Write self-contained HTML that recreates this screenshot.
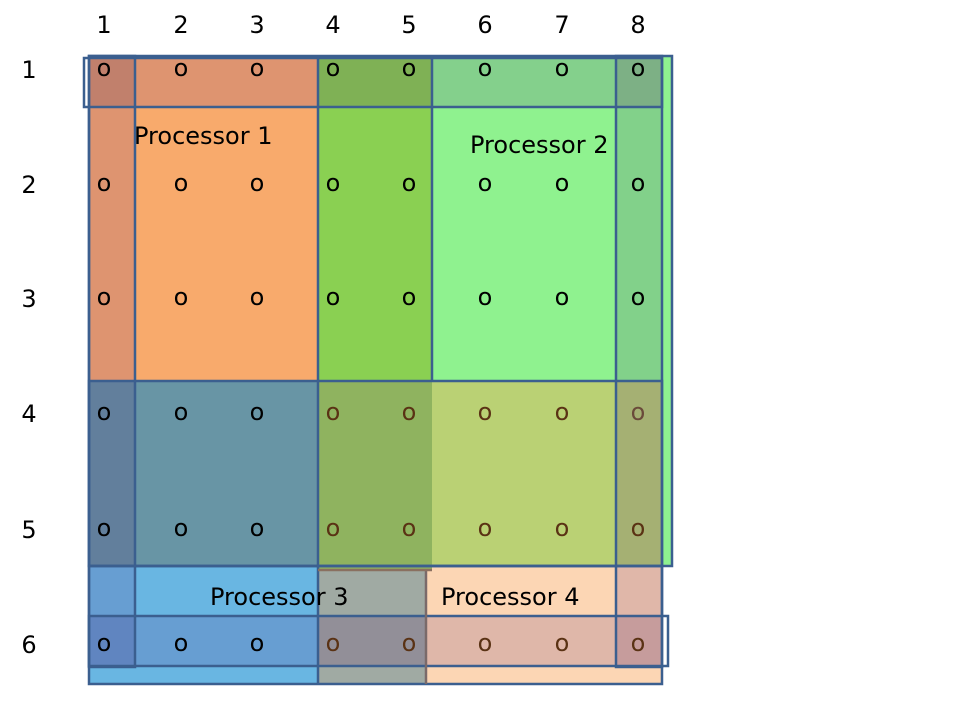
<!DOCTYPE html>
<html><head><meta charset="utf-8"><style>
body{margin:0;background:#fff;width:960px;height:720px;overflow:hidden}
svg{display:block}
text{font-family:"DejaVu Sans","Liberation Sans",sans-serif;font-size:24px}
</style></head><body>
<svg id="s" width="960" height="720">
<g id="cells">
<rect x="89" y="56" width="46" height="51" fill="#c1806c"/>
<rect x="135" y="56" width="183" height="51" fill="#de9470"/>
<rect x="318" y="56" width="114" height="51" fill="#7fb155"/>
<rect x="432" y="56" width="184" height="51" fill="#84d08c"/>
<rect x="616" y="56" width="46" height="51" fill="#7db085"/>
<rect x="662" y="56" width="10" height="510" fill="#8ff28f"/>
<rect x="89" y="107" width="46" height="274" fill="#de9470"/>
<rect x="135" y="107" width="183" height="274" fill="#f8aa6c"/>
<rect x="318" y="107" width="114" height="274" fill="#8ad052"/>
<rect x="432" y="107" width="184" height="274" fill="#8ff28f"/>
<rect x="616" y="107" width="46" height="274" fill="#82d18a"/>
<rect x="89" y="381" width="46" height="185" fill="#627f9c"/>
<rect x="135" y="381" width="183" height="185" fill="#6895a5"/>
<rect x="318" y="381" width="114" height="189" fill="#8fb35f"/>
<rect x="432" y="381" width="184" height="185" fill="#bad174"/>
<rect x="616" y="381" width="46" height="185" fill="#a5b073"/>
<rect x="89" y="566" width="46" height="50" fill="#679ed2"/>
<rect x="135" y="566" width="183" height="50" fill="#69b6e2"/>
<rect x="318" y="570" width="108" height="46" fill="#a0aaa3"/>
<rect x="432" y="566" width="184" height="50" fill="#fcd6b4"/>
<rect x="426" y="570" width="6" height="46" fill="#fcd6b4"/>
<rect x="616" y="566" width="46" height="50" fill="#e0b7a9"/>
<rect x="89" y="616" width="46" height="51" fill="#6085c0"/>
<rect x="135" y="616" width="183" height="51" fill="#679ed2"/>
<rect x="318" y="616" width="108" height="51" fill="#928f98"/>
<rect x="426" y="616" width="190" height="51" fill="#dfb7a9"/>
<rect x="616" y="616" width="46" height="51" fill="#c69c9c"/>
<rect x="89" y="667" width="229" height="17" fill="#69b6e2"/>
<rect x="318" y="667" width="108" height="17" fill="#a0aaa3"/>
<rect x="426" y="667" width="236" height="17" fill="#fcd6b4"/>
</g>
<g fill="none" stroke="#3b5f8f" stroke-width="2.5">
<rect x="89" y="56" width="583" height="510"/>
<rect x="84" y="58" width="578" height="49"/>
<rect x="89" y="56" width="46" height="611"/>
<rect x="616" y="56" width="46" height="611"/>
<rect x="89" y="381" width="573" height="185"/>
<rect x="89" y="616" width="579" height="50"/>
<rect x="89" y="566" width="573" height="118"/>
<line x1="318" y1="56" x2="318" y2="684"/>
<line x1="432" y1="56" x2="432" y2="381"/>
<line x1="426" y1="570" x2="426" y2="684" stroke="#7a6a6a"/>
<line x1="318" y1="570" x2="432" y2="570" stroke="#8a7060"/>
</g>
<g>
<text x="134" y="144">Processor 1</text>
<text x="470" y="153">Processor 2</text>
<text x="210" y="605">Processor 3</text>
<text x="441" y="605">Processor 4</text>
</g>
<g id="labels"></g>
</svg>
<script>
const colX=[104,181,257,333,409,485,562,638];
const rowY=[70,185,299,414,530,645];
const colLabels=["1","2","3","4","5","6","7","8"];
const rowLabels=["1","2","3","4","5","6"];
const g=document.getElementById('labels');
const NS='http://www.w3.org/2000/svg';
function t(x,y,s,fill){const e=document.createElementNS(NS,'text');e.setAttribute('x',x);e.setAttribute('y',y);e.setAttribute('text-anchor','middle');e.style.fill=fill||'#000';e.textContent=s;g.appendChild(e);return e;}
colLabels.forEach((c,i)=>{const e=t(colX[i],33,c);

});
rowLabels.forEach((r,i)=>{const e=t(29,rowY[i]+8,r);

});
rowY.forEach((y,ri)=>colX.forEach((x,ci)=>{
let fill='#000';
if(ri>=3&&ci>=3)fill=(ri===3&&ci===7)?'#6a4a3a':'#5a3214';
const e=t(x,y+6,'o',fill);


}));
</script>
</body></html>
